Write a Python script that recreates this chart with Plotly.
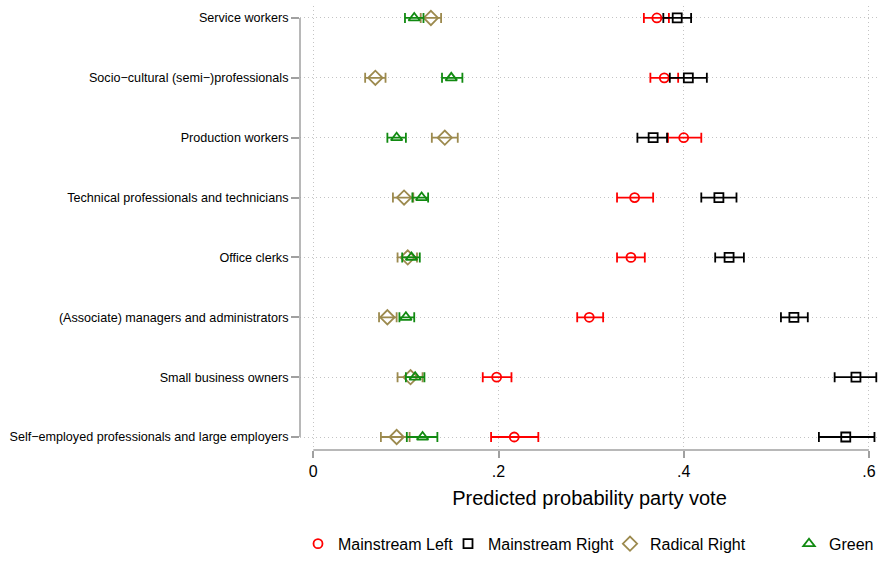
import plotly.graph_objects as go

categories = [
    "Service workers",
    "Socio\u2212cultural (semi\u2212)professionals",
    "Production workers",
    "Technical professionals and technicians",
    "Office clerks",
    "(Associate) managers and administrators",
    "Small business owners",
    "Self\u2212employed professionals and large employers",
]
ypos = [8, 7, 6, 5, 4, 3, 2, 1]

ml_est = [0.371, 0.379, 0.400, 0.347, 0.343, 0.298, 0.198, 0.217]
ml_lo = [0.357, 0.364, 0.383, 0.328, 0.328, 0.285, 0.183, 0.192]
ml_hi = [0.384, 0.394, 0.419, 0.367, 0.358, 0.313, 0.214, 0.243]

mr_est = [0.393, 0.405, 0.367, 0.438, 0.449, 0.519, 0.586, 0.575]
mr_lo = [0.378, 0.385, 0.350, 0.419, 0.434, 0.505, 0.563, 0.546]
mr_hi = [0.408, 0.425, 0.382, 0.457, 0.465, 0.534, 0.608, 0.606]

rr_est = [0.127, 0.067, 0.142, 0.098, 0.102, 0.080, 0.105, 0.090]
rr_lo = [0.116, 0.056, 0.128, 0.086, 0.091, 0.071, 0.091, 0.073]
rr_hi = [0.138, 0.078, 0.156, 0.108, 0.112, 0.090, 0.118, 0.104]

gr_est = [0.109, 0.149, 0.090, 0.117, 0.106, 0.100, 0.110, 0.118]
gr_lo = [0.099, 0.139, 0.080, 0.107, 0.096, 0.093, 0.100, 0.101]
gr_hi = [0.119, 0.161, 0.100, 0.124, 0.115, 0.109, 0.120, 0.134]

x_ticks = [0, 0.2, 0.4, 0.6]
x_ticklabels = ["0", ".2", ".4", ".6"]

series = [
    ("Mainstream Left", ml_est, ml_lo, ml_hi, "#FF0000", "circle-open", 9, "legend2"),
    ("Mainstream Right", mr_est, mr_lo, mr_hi, "#000000", "square-open", 9, "legend3"),
    ("Radical Right", rr_est, rr_lo, rr_hi, "#9C8A4E", "diamond-open", 11, "legend4"),
    ("Green", gr_est, gr_lo, gr_hi, "#118A11", "triangle-up-open", 10, "legend5"),
]

FONT = "Liberation Sans, Arial, Helvetica, sans-serif"

fig = go.Figure()
for name, est, lo, hi, col, sym, sz, lg in series:
    fig.add_trace(go.Scatter(
        x=est, y=ypos, mode="markers", name=name, legend=lg, showlegend=True,
        marker=dict(symbol=sym, size=sz, color=col, line=dict(width=1.8, color=col)),
        error_x=dict(type="data", symmetric=False,
                     array=[h - e for h, e in zip(hi, est)],
                     arrayminus=[e - l for e, l in zip(est, lo)],
                     color=col, thickness=1.8, width=5),
    ))

grid = dict(showgrid=True, gridcolor="#C4C4C4", gridwidth=1, griddash="1px,3px")

fig.update_xaxes(
    range=[-0.01436, 0.6109], tickvals=x_ticks, ticktext=x_ticklabels,
    ticks="outside", ticklen=7, tickwidth=1.5, tickcolor="#A0A0A0",
    tickfont=dict(size=16, color="#000000", family=FONT),
    showline=False, zeroline=False, automargin=False,
    title=dict(text="Predicted probability party vote", font=dict(size=20, color="#000000", family=FONT), standoff=11),
    **grid,
)
fig.update_yaxes(
    range=[0.783, 8.2], tickvals=ypos, ticktext=categories,
    ticks="outside", ticklen=8, tickwidth=1.5, tickcolor="#A0A0A0",
    tickfont=dict(size=12.6, color="#000000", family=FONT),
    showline=False, zeroline=False, automargin=False,
    **grid,
)

# axis lines spanning from first to last tick
fig.add_shape(type="line", xref="x", yref="paper", x0=x_ticks[0], x1=x_ticks[-1], y0=0, y1=0,
              line=dict(color="#A0A0A0", width=1.5))
fig.add_shape(type="line", xref="paper", yref="y", x0=0, x1=0, y0=min(ypos), y1=max(ypos),
              line=dict(color="#A0A0A0", width=1.5))

leg_common = dict(orientation="h", yanchor="bottom", y=-0.2495,
                  font=dict(size=16, color="#000000", family=FONT), bgcolor="rgba(0,0,0,0)")
W = 579.0
fig.update_layout(
    width=879, height=561,
    margin=dict(l=300, r=0, t=6, b=111),
    paper_bgcolor="white", plot_bgcolor="white",
    font=dict(family=FONT, color="#000000"),
    showlegend=True,
    legend2=dict(x=(298 - 300) / W, xanchor="left", **leg_common),
    legend3=dict(x=(448 - 300) / W, xanchor="left", **leg_common),
    legend4=dict(x=(610 - 300) / W, xanchor="left", **leg_common),
    legend5=dict(x=1.0, xanchor="right", **leg_common),
)

fig.write_html("out.html", config={"displayModeBar": False},
               post_script="document.body.style.margin='0';document.body.style.padding='0';")
